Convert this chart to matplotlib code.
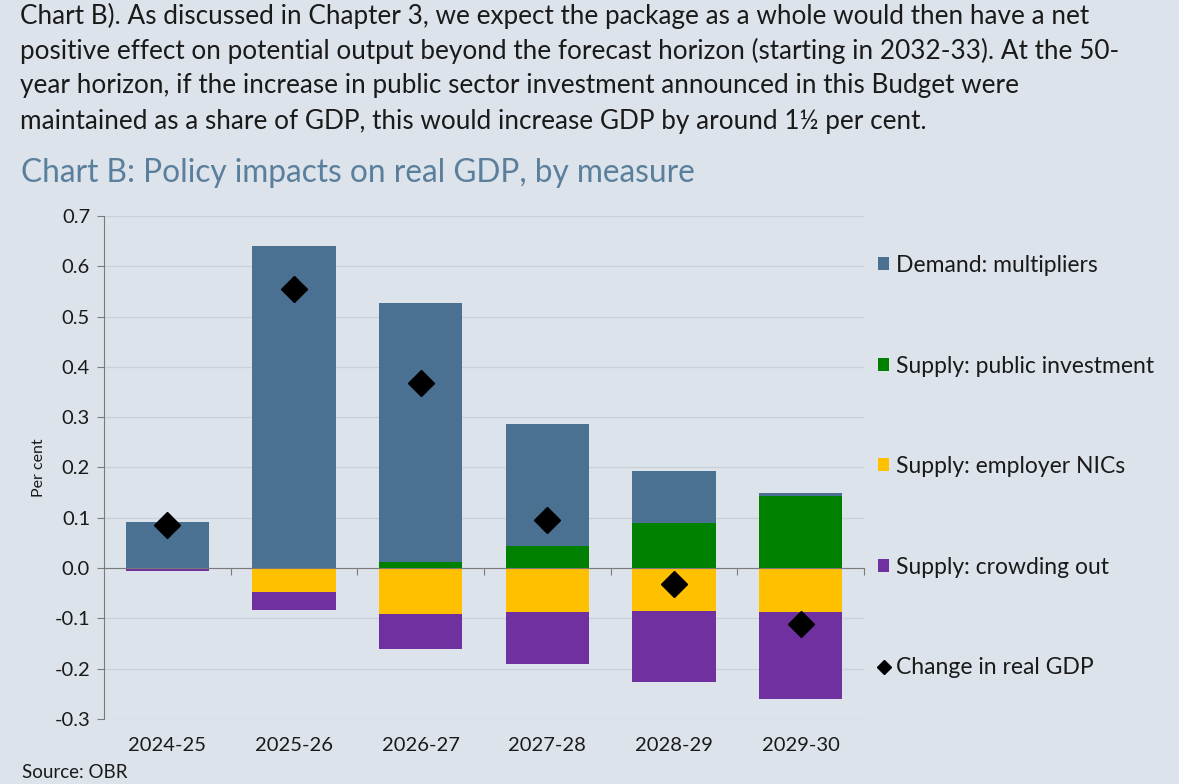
import matplotlib
matplotlib.use("Agg")
import matplotlib.pyplot as plt
import numpy as np

categories = ["2024-25", "2025-26", "2026-27", "2027-28", "2028-29", "2029-30"]
demand = [0.091, 0.640, 0.515, 0.242, 0.104, 0.005]
public_inv = [0.0, 0.0, 0.012, 0.044, 0.090, 0.144]
employer_nics = [0.0, -0.048, -0.092, -0.087, -0.085, -0.087]
crowding_out = [-0.005, -0.036, -0.069, -0.104, -0.141, -0.173]
real_gdp = [0.085, 0.555, 0.367, 0.095, -0.032, -0.111]
yticks = [-0.3, -0.2, -0.1, 0.0, 0.1, 0.2, 0.3, 0.4, 0.5, 0.6, 0.7]

series_labels = ["Demand: multipliers", "Supply: public investment",
                 "Supply: employer NICs", "Supply: crowding out",
                 "Change in real GDP"]

paragraph = [
    "Chart B). As discussed in Chapter 3, we expect the package as a whole would then have a net",
    "positive effect on potential output beyond the forecast horizon (starting in 2032-33). At the 50-",
    "year horizon, if the increase in public sector investment announced in this Budget were",
    "maintained as a share of GDP, this would increase GDP by around 1\u00bd per cent.",
]
title = "Chart B: Policy impacts on real GDP, by measure"
source = "Source: OBR"

BG = "#DCE3EA"
C_DEMAND = "#4A7191"
C_GREEN = "#008000"
C_YELLOW = "#FFC000"
C_PURPLE = "#7030A0"
TITLE_C = "#5A7F9C"
FONT = ["Lato", "DejaVu Sans"]

plt.rcParams["font.family"] = FONT

W, H = 1179, 784
fig = plt.figure(figsize=(W / 100, H / 100), dpi=100, facecolor=BG)

def fy(py):
    return 1 - py / H

for i, line in enumerate(paragraph):
    fig.text(20 / W, fy([16, 51, 86, 121][i]), line, fontsize=18.8,
             color="#1a1a1a", va="center", ha="left")
fig.text(21 / W, fy(173), title, fontsize=22.8, color=TITLE_C, va="center", ha="left")
fig.text(22 / W, fy(773), source, fontsize=13.5, color="#1a1a1a", va="center", ha="left")

ax = fig.add_axes([104 / W, 1 - 719 / H, (864 - 104) / W, (719 - 216) / H])
ax.set_facecolor(BG)

x = np.arange(len(categories))
bw = 0.66
b_green = ax.bar(x, public_inv, bw, color=C_GREEN, zorder=2)
b_dem = ax.bar(x, demand, bw, bottom=public_inv, color=C_DEMAND, zorder=2)
b_yel = ax.bar(x, employer_nics, bw, color=C_YELLOW, zorder=2)
b_pur = ax.bar(x, crowding_out, bw, bottom=employer_nics, color=C_PURPLE, zorder=2)
gdp_line, = ax.plot(x, real_gdp, linestyle="none", marker="D", markersize=13,
                    color="black", zorder=4)

ax.set_xlim(-0.5, len(categories) - 0.5)
ax.set_ylim(-0.3, 0.7)
ax.set_yticks(yticks)
ax.set_yticklabels([f"{v:.1f}" for v in yticks])
ax.grid(axis="y", color="#C9D0D8", linewidth=0.9, zorder=0)
ax.set_axisbelow(True)

for s in ["top", "right"]:
    ax.spines[s].set_visible(False)
ax.spines["left"].set_color("#7a7a7a")
ax.spines["bottom"].set_position(("data", 0))
ax.spines["bottom"].set_color("#7a7a7a")
ax.spines["bottom"].set_zorder(3)

ax.set_xticks(np.arange(len(categories)) + 0.5)
ax.set_xticklabels([])
ax.tick_params(axis="x", direction="out", length=5, color="#7a7a7a")
ax.tick_params(axis="y", direction="out", length=5, color="#7a7a7a",
               labelsize=14.5, pad=5, labelcolor="#1a1a1a")
for xi, c in zip(x, categories):
    ax.text(xi, -0.052, c, transform=ax.get_xaxis_transform(), ha="center",
            va="center", fontsize=14.5, color="#1a1a1a")

ax.set_ylabel("Per cent", fontsize=11.5, color="#1a1a1a", labelpad=6)

leg = fig.legend([b_dem, b_green, b_yel, b_pur, gdp_line], series_labels,
                 loc="upper left", bbox_to_anchor=(878 / W, fy(255)),
                 frameon=False, fontsize=16.5, handlelength=0.5, handleheight=0.5,
                 handletextpad=0.3, labelspacing=3.47, borderpad=0, borderaxespad=0)
for t in leg.get_texts():
    t.set_color("#1a1a1a")
leg.legend_handles[4].set_markersize(7)

fig.savefig("out.png", dpi=100, facecolor=BG)
